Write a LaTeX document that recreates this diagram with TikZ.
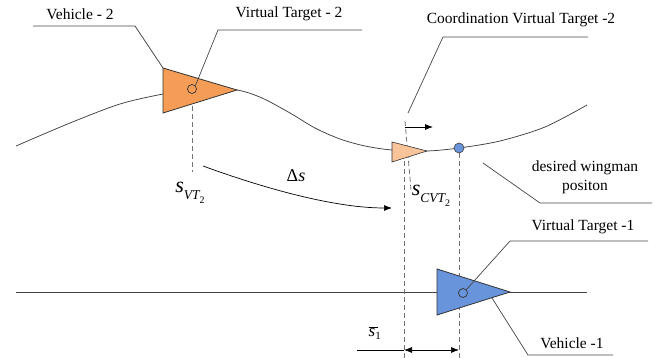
\documentclass[tikz,border=0pt]{standalone}
\usepackage{fontspec}
\setmainfont{Liberation Serif}
\usetikzlibrary{arrows.meta}
\definecolor{orangeA}{RGB}{245,157,86}
\definecolor{orangeB}{RGB}{250,196,155}
\definecolor{blueA}{RGB}{103,148,218}
\definecolor{lineC}{RGB}{70,70,70}
\begin{document}
\begin{tikzpicture}[x=1pt,y=-1pt,
  lbl/.style={font=\fontsize{15.5}{18}\selectfont, inner sep=0pt},
  mlbl/.style={inner sep=0pt},
  leader/.style={draw=lineC, line width=0.7pt},
  trackline/.style={draw=black!75, line width=0.75pt},
  guide/.style={draw=black!55, dash pattern=on 5pt off 3pt, line width=0.8pt},
  veh/.style={draw=black!80, line width=0.8pt},
  tgt/.style={circle, draw=black!80, line width=0.7pt, minimum size=9pt, inner sep=0pt},
  arr/.style={draw=black, line width=0.8pt}
]
\useasboundingbox (0,0) rectangle (659,358);

% tracks
\draw[trackline] plot[smooth] coordinates {(16,146) (70,123) (120,104) (163,94) (200,88) (237,90) (262,98) (290,113) (315,128) (340,139) (365,146) (392,150) (427,151) (459,148) (500,141) (545,127) (587,105)};
\draw[trackline] (16,292) -- (587,292);

% guides
\draw[guide] (192,106) -- (192,172);
\draw[guide] (404,145) -- (404,358);
\draw[guide] (459,153) -- (459,358);
\draw[guide] (405,121) -- (411,190);

% vehicles
\draw[veh, fill=orangeA] (163,68) -- (237,90) -- (163,113) -- cycle;
\node[tgt] (vt2) at (192,89) {};
\draw[veh, fill=orangeB, line width=0.6pt] (392,142) -- (427,151) -- (392,162) -- cycle;
\draw[veh, fill=blueA] (437,269) -- (510,292) -- (437,315) -- cycle;
\node[tgt] (vt1) at (463,293) {};
\node[circle, draw=black!70, fill=blueA, minimum size=10pt, inner sep=0pt, line width=0.7pt] (dw) at (459,148) {};

% direction arrow of CVT
\coordinate (ct) at (405,127);
\coordinate (ch) at (433,127);
\draw[arr, -{Latex[length=8pt,width=6pt]}] (ct) -- (ch);

% labels
\node[lbl] (lv2) at (80,14) {Vehicle - 2};
\node[lbl] (lvt2) at (289,14) {Virtual Target - 2};
\node[lbl] (lcvt) at (521,20) {Coordination Virtual Target -2};
\node[lbl] (ldw1) at (585,168) {desired wingman};
\node[lbl] (ldw2) at (585,187) {positon};
\node[lbl] (lvt1) at (583,227) {Virtual Target -1};
\node[lbl] (lv1) at (572,343) {Vehicle -1};

% leaders
\coordinate (a1) at (33,26); \coordinate (a2) at (135,26); \coordinate (a3) at (163,68);
\draw[leader] (a1) -- (a2) -- (a3);
\coordinate (b2) at (218,30); \coordinate (b3) at (362,30);
\draw[leader] (vt2.north east) -- (b2) -- (b3);
\coordinate (c1) at (408,113); \coordinate (c2) at (443,37); \coordinate (c3) at (588,37);
\draw[leader] (c1) -- (c2) -- (c3);
\coordinate (d1) at (483,163); \coordinate (d2) at (540,203); \coordinate (d3) at (652,203);
\draw[leader] (d1) -- (d2) -- (d3);
\coordinate (e2) at (510,241); \coordinate (e3) at (648,241);
\draw[leader] (vt1.north east) -- (e2) -- (e3);
\coordinate (f1) at (492,298); \coordinate (f2) at (528,355); \coordinate (f3) at (613,355);
\draw[leader] (f1) -- (f2) -- (f3);

% math labels
\node[mlbl] (svt) at (190,193) {\fontsize{22}{24}\selectfont\itshape s\raisebox{-0.32em}{\fontsize{13.5}{14}\selectfont VT\raisebox{-0.3em}{\fontsize{10}{10}\selectfont\upshape 2}}};
\node[mlbl] (scvt) at (431,196) {\fontsize{22}{24}\selectfont\itshape s\raisebox{-0.32em}{\fontsize{13.5}{14}\selectfont CVT\raisebox{-0.3em}{\fontsize{10}{10}\selectfont\upshape 2}}};
\node[mlbl] (ds) at (296,176) {\fontsize{18}{20}\selectfont Δ\textit{s}};
\node[mlbl] (s1) at (375,333) {\fontsize{17}{18}\selectfont $\overline{\mbox{\itshape s\,}}\!_{\mbox{\fontsize{11}{11}\selectfont 1}}$};

% delta-s arrow
\coordinate (g1) at (203,166); \coordinate (g2) at (392,208);
\draw[arr, line width=0.7pt, -{Latex[length=8pt,width=6pt]}] (g1) .. controls (255,185) and (330,208) .. (g2);

% dimension
\coordinate (h0) at (357,350); \coordinate (h1) at (404,350); \coordinate (h2) at (459,350);
\draw[arr, line width=0.7pt] (h0) -- (h1);
\draw[arr, line width=0.7pt, {Latex[length=8pt,width=6pt]}-{Latex[length=8pt,width=6pt]}] (h1) -- (h2);
\end{tikzpicture}
\end{document}
